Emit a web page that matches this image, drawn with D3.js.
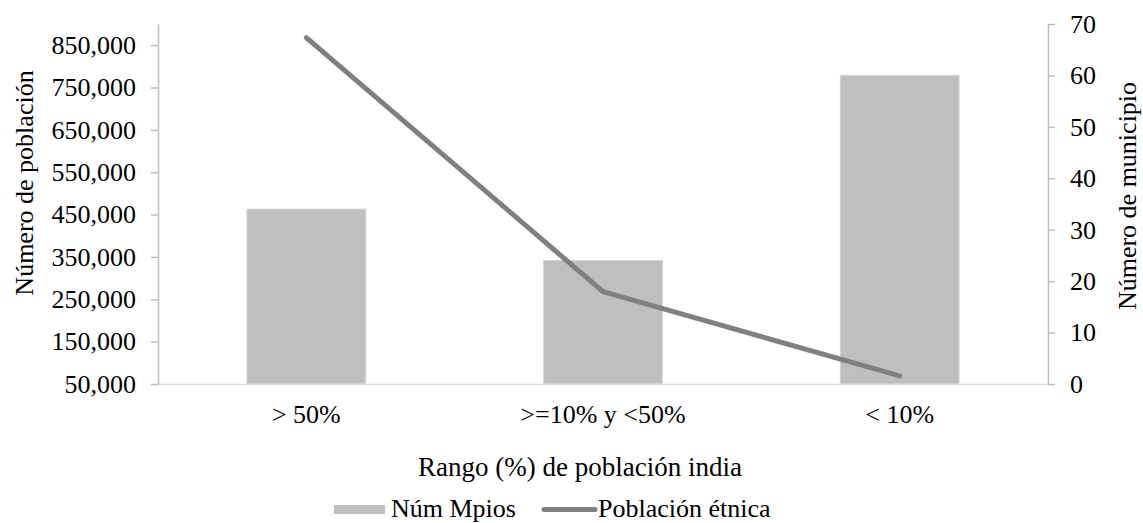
<!DOCTYPE html>
<html>
<head>
<meta charset="utf-8">
<script src="https://cdn.jsdelivr.net/npm/d3@7"></script>
<style>
  html, body { margin: 0; padding: 0; background: #fff; }
  svg { display: block; }
  text { font-family: "Liberation Serif", "Times New Roman", Times, serif; fill: #000; }
</style>
</head>
<body>
<svg id="chart" width="1143" height="523"></svg>
<script>
const categories = ["> 50%", ">=10% y <50%", "< 10%"];
const numMpios = [34, 24, 60];
const poblacion = [868000, 268000, 69000];
const leftTicks = [50000, 150000, 250000, 350000, 450000, 550000, 650000, 750000, 850000];
const rightTicks = [0, 10, 20, 30, 40, 50, 60, 70];
const xTitle = "Rango (%) de población india";
const yLeftTitle = "Número de población";
const yRightTitle = "Número de municipio";
const seriesNames = ["Núm Mpios", "Población étnica"];

const svg = d3.select("#chart");
const L = 158, R = 1048, T = 24, B = 384;
const fs = 26;

const x = d3.scaleBand().domain(categories).range([L, R]).padding(0);
const yL = d3.scaleLinear().domain([50000, 900000]).range([B, T]);
const yR = d3.scaleLinear().domain([0, 70]).range([B, T]);

// bars
const bw = x.bandwidth() * 0.4;
svg.append("g").selectAll("rect").data(categories).join("rect")
  .attr("x", d => x(d) + (x.bandwidth() - bw) / 2)
  .attr("y", (d, i) => yR(numMpios[i]))
  .attr("width", bw)
  .attr("height", (d, i) => B - yR(numMpios[i]))
  .attr("fill", "#bfbfbf")
  .attr("stroke", "#d4d4d4")
  .attr("stroke-width", 1);

// baseline
svg.append("line").attr("x1", L).attr("x2", R).attr("y1", B + 0.5).attr("y2", B + 0.5)
  .attr("stroke", "#d9dde3").attr("stroke-width", 1.5);

// left axis
const gL = svg.append("g").attr("transform", `translate(${L},0)`)
  .call(d3.axisLeft(yL).tickValues(leftTicks).tickSize(7).tickSizeOuter(0).tickPadding(15)
    .tickFormat(d3.format(",")));
gL.attr("font-family", null);
gL.select(".domain").attr("stroke", "#bfbfbf").attr("stroke-width", 1.5);
gL.selectAll(".tick line").attr("stroke", "#bfbfbf").attr("stroke-width", 1.5);
gL.selectAll(".tick text").attr("font-size", fs).attr("fill", "#000");

// right axis
const gR = svg.append("g").attr("transform", `translate(${R},0)`)
  .call(d3.axisRight(yR).tickValues(rightTicks).tickSize(7).tickSizeOuter(0).tickPadding(15));
gR.attr("font-family", null);
gR.select(".domain").attr("stroke", "#bfbfbf").attr("stroke-width", 1.5);
gR.selectAll(".tick line").attr("stroke", "#bfbfbf").attr("stroke-width", 1.5);
gR.selectAll(".tick text").attr("font-size", fs).attr("fill", "#000");

// bottom axis labels
const gB = svg.append("g").attr("transform", `translate(0,${B})`)
  .call(d3.axisBottom(x).tickSize(0).tickPadding(21));
gB.attr("font-family", null);
gB.select(".domain").remove();
gB.selectAll(".tick text").attr("font-size", fs).attr("fill", "#000");

// line
const line = d3.line().x((d, i) => x(categories[i]) + x.bandwidth() / 2).y(d => yL(d));
svg.append("path").datum(poblacion).attr("d", line)
  .attr("fill", "none").attr("stroke", "#808080").attr("stroke-width", 5)
  .attr("stroke-linecap", "round").attr("stroke-linejoin", "round");

// axis titles
svg.append("text").attr("x", 580).attr("y", 476).attr("text-anchor", "middle")
  .attr("font-size", 27).text(xTitle);
svg.append("text").attr("transform", "translate(33,183) rotate(-90)").attr("text-anchor", "middle")
  .attr("font-size", fs).text(yLeftTitle);
svg.append("text").attr("transform", "translate(1136,196) rotate(-90)").attr("text-anchor", "middle")
  .attr("font-size", fs).text(yRightTitle);

// legend
const lg = svg.append("g");
lg.append("rect").attr("x", 334).attr("y", 505).attr("width", 51).attr("height", 9).attr("fill", "#bfbfbf");
lg.append("text").attr("x", 391).attr("y", 517).attr("font-size", 26).text(seriesNames[0]);
lg.append("line").attr("x1", 544).attr("x2", 595).attr("y1", 509.5).attr("y2", 509.5)
  .attr("stroke", "#808080").attr("stroke-width", 5).attr("stroke-linecap", "round");
lg.append("text").attr("x", 598).attr("y", 517).attr("font-size", 26).text(seriesNames[1]);
</script>
</body>
</html>
